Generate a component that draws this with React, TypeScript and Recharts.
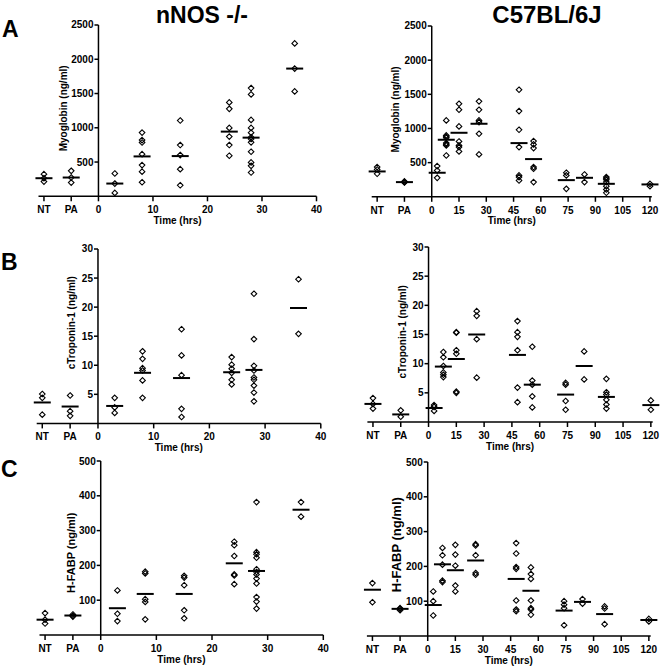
import React from "react";
import { ScatterChart, Scatter, XAxis, YAxis, ReferenceLine, ReferenceDot } from "recharts";

const FONT = "'Liberation Sans', Arial, sans-serif";

// x positions: NT / PA sit left of zero, then hours after
const LEFT_TIMES = [-10, -5, 3, 8, 15, 24, 28, 36];
const RIGHT_TIMES = [-30, -15, 3, 8, 15, 26, 48, 56, 74, 84, 96, 120];

const LEFT_TICKS = [-10, -5, 0, 10, 20, 30, 40];
const LEFT_TICK_LABELS = ["NT", "PA", "0", "10", "20", "30", "40"];
const RIGHT_TICKS = [-30, -15, 0, 15, 30, 45, 60, 75, 90, 105, 120];
const RIGHT_TICK_LABELS = ["NT", "PA", "0", "15", "30", "45", "60", "75", "90", "105", "120"];

const MYO_TICKS = [500, 1000, 1500, 2000, 2500];
const TNI_TICKS = [5, 10, 15, 20, 25, 30];
const FABP_TICKS = [100, 200, 300, 400, 500];

// A - myoglobin
const nnosMyoglobin = [
  [323, 264, 215],
  [372, 274, 200],
  [333, 186, 49],
  [930, 820, 785, 615, 455, 360, 205],
  [1106, 748, 602, 396, 161],
  [1370, 1277, 998, 871, 748, 592],
  [1580, 1487, 1115, 998, 929, 861, 836, 787, 650, 494, 445, 347],
  [2231, 1864, 1531],
];
const nnosMyoglobinMedian = [264, 274, 186, 582, 587, 944, 856, 1864];

const c57Myoglobin = [
  [435, 400, 337],
  [225, 215, 210],
  [449, 386, 278],
  [1118, 898, 880, 864, 786, 770, 752, 605],
  [1362, 1274, 1030, 810, 752, 728, 664],
  [1397, 1274, 1118, 1094, 923, 620],
  [1567, 1255, 981, 728, 313, 288, 239],
  [815, 767, 713, 435, 410, 215],
  [352, 313, 117],
  [327, 215],
  [288, 270, 249, 215, 156, 107, 59],
  [190, 156],
];
const c57MyoglobinMedian = [371, 215, 352, 835, 937, 1069, 786, 552, 244, 278, 190, 181];

// B - cTroponin-1
const nnosTroponin = [
  [5.05, 4.4, 1.5],
  [4.8, 2.1, 1.3],
  [4.4, 2.75, 1.8],
  [12.4, 11.1, 9.5, 9.1, 7.4, 4.4],
  [16.2, 11.7, 8.3, 2.5, 1.1],
  [11.4, 10.1, 9.4, 8.7, 7.5, 6.7],
  [22.3, 14.5, 9.9, 9.1, 7.9, 7.5, 6.5, 5.3, 3.8],
  [24.8, 15.4],
];
const nnosTroponinMedian = [3.6, 2.9, 3.0, 8.7, 7.8, 8.8, 9.2, 19.85];

const c57Troponin = [
  [4.1, 3.1, 2.3],
  [2.0, 0.9],
  [2.9, 2.6, 1.9],
  [12.0, 11.1, 9.6, 8.5, 8.1, 7.7],
  [15.4, 15.3, 12.3, 11.7, 5.2, 5.0],
  [19.0, 18.2, 14.2, 7.6],
  [17.3, 15.4, 14.6, 12.3, 5.9, 3.4],
  [12.9, 7.1, 6.4, 4.4, 2.5],
  [6.7, 6.4, 3.6, 2.1],
  [12.1, 7.3],
  [7.4, 5.1, 4.7, 3.8, 3.0, 2.3],
  [3.7, 2.1],
];
const c57TroponinMedian = [3.1, 1.3, 2.4, 9.5, 10.8, 15.0, 11.5, 6.4, 4.7, 9.6, 4.3, 2.9];

// C - H-FABP
const nnosFabp = [
  [63, 44, 33],
  [59, 55, 53],
  [128, 61, 40],
  [182, 177, 103, 95, 45],
  [170, 165, 143, 71, 48],
  [268, 258, 227, 174, 171, 146],
  [382, 238, 232, 222, 189, 181, 174, 162, 148, 109, 96, 76],
  [382, 340],
];
const nnosFabpMedian = [44, 56, 77, 118, 118, 206, 184, 360];

const c57Fabp = [
  [152, 97],
  [80, 78, 74],
  [128, 100, 59],
  [253, 232, 205, 159, 155],
  [262, 234, 202, 145, 128],
  [264, 260, 232, 181, 176],
  [267, 237, 198, 193, 102, 76, 71],
  [197, 178, 164, 102, 80, 76, 61],
  [100, 90, 80, 31],
  [106, 93],
  [85, 79, 34],
  [49, 42],
];
const c57FabpMedian = [133, 78, 89, 206, 189, 217, 164, 130, 73, 98, 63, 46];

const Diamond = (props: any) => {
  const { cx, cy } = props;
  if (cx == null || cy == null) return null;
  const s = 2.8;
  return (
    <path
      d={`M${cx},${cy - s}L${cx + s},${cy}L${cx},${cy + s}L${cx - s},${cy}Z`}
      fill="none"
      stroke="#000"
      strokeWidth={1.1}
    />
  );
};

const MedianBar = (props: any) => {
  const { cx, cy } = props;
  if (cx == null || cy == null) return null;
  return <line x1={cx - 8.5} x2={cx + 8.5} y1={cy} y2={cy} stroke="#000" strokeWidth={2} />;
};

const yTickShape = (label: string) => (props: any) => (
  <g>
    <line x1={props.cx - 4} x2={props.cx} y1={props.cy} y2={props.cy} stroke="#000" strokeWidth={1.5} />
    <text
      x={props.cx - 5}
      y={props.cy}
      dy="0.35em"
      textAnchor="end"
      fontSize={10}
      fontWeight="bold"
      fontFamily={FONT}
      fill="#000"
    >
      {label}
    </text>
  </g>
);

const yTitleShape = (title: string, dx: number, dy: number, size: number) => (props: any) => {
  const x = props.cx - dx;
  const y = props.cy + dy;
  return (
    <text
      x={x}
      y={y}
      transform={`rotate(-90, ${x}, ${y})`}
      dy="0.35em"
      textAnchor="middle"
      fontSize={size}
      fontWeight="bold"
      fontFamily={FONT}
      fill="#000"
    >
      {title}
    </text>
  );
};

type Box = { colX: number; colW: number; l: number; r: number; t: number; b: number };

type PanelProps = {
  box: Box;
  xDomain: [number, number];
  xTicks: number[];
  xLabels: string[];
  yMax: number;
  yTicks: number[];
  times: number[];
  values: number[][];
  medians: number[];
  yTitle: string;
  titleDx: number;
  titleDy: number;
  titleSize: number;
};

const Panel = ({ box, xDomain, xTicks, xLabels, yMax, yTicks, times, values, medians, yTitle, titleDx, titleDy, titleSize }: PanelProps) => {
  const topPad = 20;
  const axisH = 30;
  const chartTop = box.t - topPad;
  const height = box.b - box.t + topPad + axisH + 2;
  const points = values.flatMap((vals, i) => vals.map((v) => ({ x: times[i], y: v })));
  const medianPts = medians.map((m, i) => ({ x: times[i], y: m }));

  return (
    <div style={{ position: "absolute", left: box.colX, top: chartTop }}>
      <ScatterChart
        width={box.colW}
        height={height}
        margin={{ top: topPad, bottom: 2, left: box.l - box.colX, right: box.colX + box.colW - box.r }}
      >
        <XAxis
          type="number"
          dataKey="x"
          domain={xDomain}
          ticks={xTicks}
          interval={0}
          tickFormatter={(v: number) => xLabels[xTicks.indexOf(v)] ?? String(v)}
          axisLine={{ stroke: "#000", strokeWidth: 1.5 }}
          tickLine={{ stroke: "#000", strokeWidth: 1.5 }}
          tickSize={5}
          tickMargin={5}
          tick={{ fill: "#000", fontSize: 10, fontWeight: "bold", fontFamily: FONT }}
          height={axisH}
          label={{
            value: "Time (hrs)",
            position: "insideBottom",
            offset: 2.3,
            fill: "#000",
            fontSize: 10,
            fontWeight: "bold",
            fontFamily: FONT,
          }}
        />
        <YAxis type="number" dataKey="y" domain={[0, yMax]} hide />
        <ReferenceLine x={0} stroke="#000" strokeWidth={1.5} />
        {yTicks.map((t) => (
          <ReferenceDot key={t} x={0} y={t} shape={yTickShape(String(t))} />
        ))}
        <ReferenceDot x={0} y={yMax / 2} shape={yTitleShape(yTitle, titleDx, titleDy, titleSize)} />
        <Scatter data={points} shape={<Diamond />} isAnimationActive={false} />
        <Scatter data={medianPts} shape={<MedianBar />} isAnimationActive={false} />
      </ScatterChart>
    </div>
  );
};

const LEFT_DOMAIN: [number, number] = [-11, 40];
const RIGHT_DOMAIN: [number, number] = [-33, 121];

export default function App() {
  return (
    <div style={{ position: "absolute", left: 0, top: 0, width: 661, height: 670, background: "#fff", overflow: "hidden" }}>
      <Panel
        box={{ colX: 0, colW: 330, l: 38.5, r: 316.5, t: 25, b: 196.3 }}
        xDomain={LEFT_DOMAIN} xTicks={LEFT_TICKS} xLabels={LEFT_TICK_LABELS}
        yMax={2500} yTicks={MYO_TICKS} times={LEFT_TIMES}
        values={nnosMyoglobin} medians={nnosMyoglobinMedian}
        yTitle="Myoglobin (ng/ml)" titleDx={35} titleDy={-2.3} titleSize={10}
      />
      <Panel
        box={{ colX: 330, colW: 331, l: 371.7, r: 651.8, t: 25.5, b: 196.3 }}
        xDomain={RIGHT_DOMAIN} xTicks={RIGHT_TICKS} xLabels={RIGHT_TICK_LABELS}
        yMax={2500} yTicks={MYO_TICKS} times={RIGHT_TIMES}
        values={c57Myoglobin} medians={c57MyoglobinMedian}
        yTitle="Myoglobin (ng/ml)" titleDx={36.7} titleDy={-2} titleSize={10}
      />
      <Panel
        box={{ colX: 0, colW: 330, l: 36.7, r: 320.8, t: 249.3, b: 423.7 }}
        xDomain={LEFT_DOMAIN} xTicks={LEFT_TICKS} xLabels={LEFT_TICK_LABELS}
        yMax={30} yTicks={TNI_TICKS} times={LEFT_TIMES}
        values={nnosTroponin} medians={nnosTroponinMedian}
        yTitle="cTroponin-1 (ng/ml)" titleDx={26.3} titleDy={-13.5} titleSize={10}
      />
      <Panel
        box={{ colX: 330, colW: 331, l: 367.4, r: 652.7, t: 246.7, b: 421.7 }}
        xDomain={RIGHT_DOMAIN} xTicks={RIGHT_TICKS} xLabels={RIGHT_TICK_LABELS}
        yMax={30} yTicks={TNI_TICKS} times={RIGHT_TIMES}
        values={c57Troponin} medians={c57TroponinMedian}
        yTitle="cTroponin-1 (ng/ml)" titleDx={25.8} titleDy={-2.7} titleSize={10}
      />
      <Panel
        box={{ colX: 0, colW: 330, l: 39.5, r: 323.3, t: 461.3, b: 635.3 }}
        xDomain={LEFT_DOMAIN} xTicks={LEFT_TICKS} xLabels={LEFT_TICK_LABELS}
        yMax={500} yTicks={FABP_TICKS} times={LEFT_TIMES}
        values={nnosFabp} medians={nnosFabpMedian}
        yTitle="H-FABP (ng/ml)" titleDx={29.7} titleDy={4.7} titleSize={11}
      />
      <Panel
        box={{ colX: 330, colW: 331, l: 366.9, r: 650.7, t: 462, b: 636 }}
        xDomain={RIGHT_DOMAIN} xTicks={RIGHT_TICKS} xLabels={RIGHT_TICK_LABELS}
        yMax={500} yTicks={FABP_TICKS} times={RIGHT_TIMES}
        values={c57Fabp} medians={c57FabpMedian}
        yTitle="H-FABP (ng/ml)" titleDx={31.7} titleDy={-4.3} titleSize={13}
      />
      <svg width={661} height={670} style={{ position: "absolute", left: 0, top: 0, pointerEvents: "none" }}>
        <g fontFamily={FONT} fontWeight="bold" fill="#000">
          <text x={202} y={22.7} fontSize={23} textAnchor="middle">nNOS -/-</text>
          <text x={547} y={22.7} fontSize={24} textAnchor="middle">C57BL/6J</text>
          <text x={2} y={37.3} fontSize={23}>A</text>
          <text x={1} y={269.5} fontSize={23}>B</text>
          <text x={1} y={476.5} fontSize={23}>C</text>
        </g>
      </svg>
    </div>
  );
}
